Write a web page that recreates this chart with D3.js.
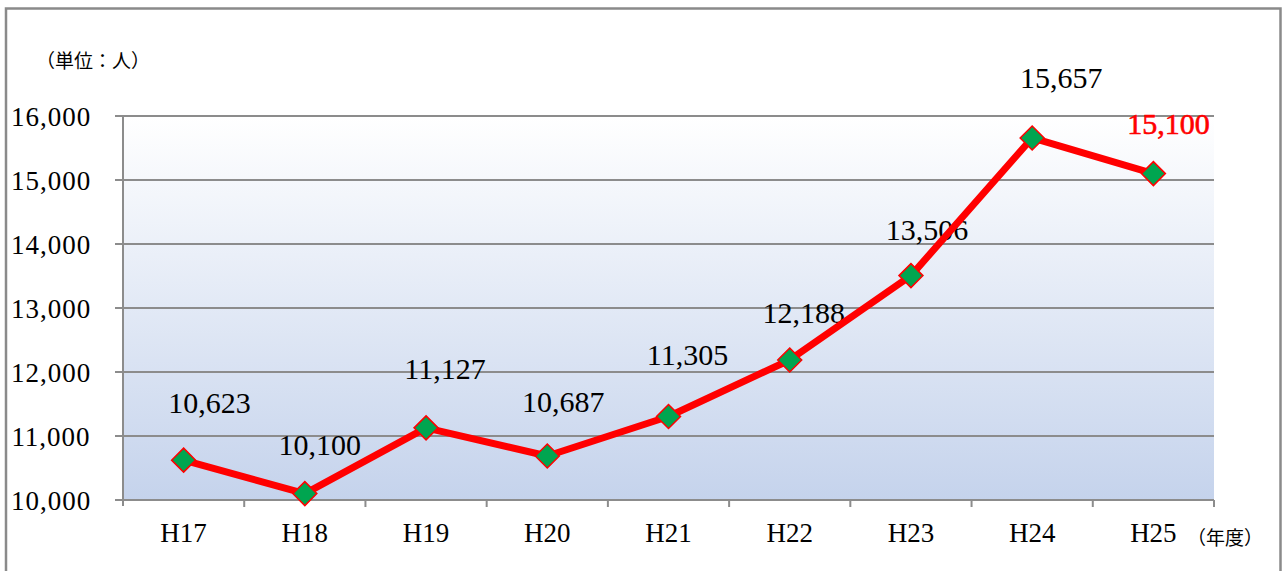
<!DOCTYPE html>
<html lang="ja">
<head>
<meta charset="utf-8">
<title>利用者数の推移</title>
<script src="https://cdn.jsdelivr.net/npm/d3@7"></script>
<style>
  body { margin: 0; background: #fff; }
  svg { display: block; }
  .serif { font-family: "Liberation Serif", "DejaVu Serif", serif; fill: #000; }
  .jp { font-family: "Noto Sans CJK JP", sans-serif; fill: #000; }
</style>
</head>
<body>
<div id="chart"></div>
<script>
// data
var years = ["H17", "H18", "H19", "H20", "H21", "H22", "H23", "H24", "H25"];
var persons = [10623, 10100, 11127, 10687, 11305, 12188, 13506, 15657, 15100];
var yTicks = [10000, 11000, 12000, 13000, 14000, 15000, 16000];

// label nudges (px) as placed in the original
var labelDx = [26, 15, 19, 16, 19, 14, 16, 29, 15];
var labelDy = [47, 39, 49, 44, 51, 37, 36, 50, 40];

var W = 1285, H = 571;
var margin = {top: 116, right: 71, bottom: 71, left: 123},
    width = W - margin.left - margin.right,
    height = H - margin.top - margin.bottom;

var svg = d3.select("#chart").append("svg")
    .attr("width", W)
    .attr("height", H);

// outer frame
svg.append("path")
    .attr("d", "M6,580 V8.5 H1280.5 V580")
    .attr("fill", "none")
    .attr("stroke", "#8a8a8a")
    .attr("stroke-width", 2.5);

var defs = svg.append("defs");
var grad = defs.append("linearGradient")
    .attr("id", "bg").attr("x1", 0).attr("y1", 0).attr("x2", 0).attr("y2", 1);
grad.append("stop").attr("offset", "0%").attr("stop-color", "#ffffff");
grad.append("stop").attr("offset", "100%").attr("stop-color", "#c5d3ec");

var g = svg.append("g")
    .attr("transform", "translate(" + margin.left + "," + margin.top + ")");

var x = d3.scaleBand().domain(years).range([0, width]);
var y = d3.scaleLinear().domain([10000, 16000]).range([height, 0]);

g.append("rect")
    .attr("width", width)
    .attr("height", height)
    .attr("fill", "url(#bg)");

// gridlines
g.selectAll(".grid")
    .data(yTicks)
    .enter().append("line")
    .attr("x1", -8)
    .attr("x2", width)
    .attr("y1", function(d) { return y(d); })
    .attr("y2", function(d) { return y(d); })
    .attr("stroke", "#8c8c8c")
    .attr("stroke-width", 2);

// y axis line
g.append("line")
    .attr("x1", 0).attr("x2", 0)
    .attr("y1", 0).attr("y2", height + 6)
    .attr("stroke", "#8c8c8c")
    .attr("stroke-width", 2);

// x ticks between categories
var xEdges = years.map(function(d) { return x(d) + x.bandwidth(); });
g.selectAll(".xtick")
    .data(xEdges)
    .enter().append("line")
    .attr("x1", function(d) { return d; })
    .attr("x2", function(d) { return d; })
    .attr("y1", height)
    .attr("y2", height + 7)
    .attr("stroke", "#8c8c8c")
    .attr("stroke-width", 2);

// y labels
g.selectAll(".ylab")
    .data(yTicks)
    .enter().append("text")
    .attr("class", "serif")
    .attr("x", -72)
    .attr("y", function(d) { return y(d) + 10; })
    .attr("text-anchor", "middle")
    .style("font-size", "27px")
    .style("letter-spacing", "1px")
    .text(function(d) { return d3.format(",")(d); });

// x labels
g.selectAll(".xlab")
    .data(years)
    .enter().append("text")
    .attr("class", "serif")
    .attr("x", function(d) { return x(d) + x.bandwidth() / 2; })
    .attr("y", height + 42)
    .attr("text-anchor", "middle")
    .style("font-size", "27px")
    .text(function(d) { return d; });

// unit labels
svg.append("text")
    .attr("class", "jp")
    .attr("x", 36).attr("y", 68)
    .style("font-size", "19px")
    .text("（単位：人）");

svg.append("text")
    .attr("class", "jp")
    .attr("x", 1187).attr("y", 545)
    .style("font-size", "19px")
    .text("（年度）");

// value labels
g.selectAll(".vlab")
    .data(persons)
    .enter().append("text")
    .attr("class", "serif")
    .attr("x", function(d, i) { return x(years[i]) + x.bandwidth() / 2 + labelDx[i]; })
    .attr("y", function(d, i) { return y(d) - labelDy[i]; })
    .attr("text-anchor", "middle")
    .style("font-size", "30px")
    .style("fill", function(d, i) { return i === persons.length - 1 ? "#ff0000" : "#000"; })
    .style("stroke", function(d, i) { return i === persons.length - 1 ? "#ff0000" : "none"; })
    .style("stroke-width", 0.6)
    .text(function(d) { return d3.format(",")(d); });

// line
var line = d3.line()
    .x(function(d, i) { return x(years[i]) + x.bandwidth() / 2; })
    .y(function(d) { return y(d); });

g.append("path")
    .datum(persons)
    .attr("d", line)
    .attr("fill", "none")
    .attr("stroke", "#ff0000")
    .attr("stroke-width", 7)
    .attr("stroke-linejoin", "round");

// markers
g.selectAll(".pt")
    .data(persons)
    .enter().append("path")
    .attr("d", "M0,-12 L12,0 L0,12 L-12,0 Z")
    .attr("transform", function(d, i) {
        return "translate(" + (x(years[i]) + x.bandwidth() / 2) + "," + y(d) + ")";
    })
    .attr("fill", "#00a550")
    .attr("stroke", "#ff0000")
    .attr("stroke-width", 1.5);
</script>
</body>
</html>
